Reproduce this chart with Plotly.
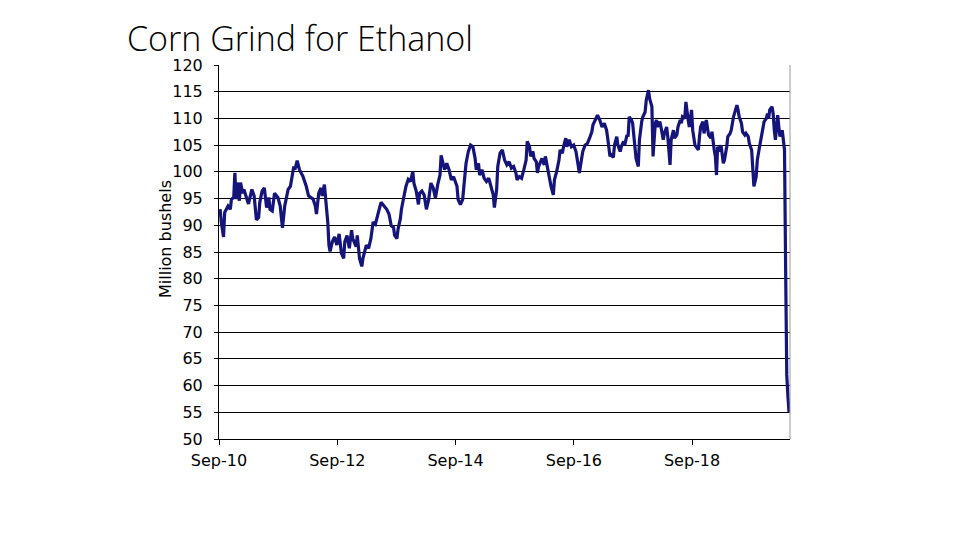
import pandas as pd
import plotly.graph_objects as go

title_text = "Corn Grind for Ethanol"
y_title = "Million bushels"
start_date = "2010-09-01"
end_date = "2020-04-28"

# week number since start_date
week_index = [1,2,4,5,8,10,11,13,14,15,
16,18,19,21,22,24,26,29,31,33,
35,36,38,40,42,44,45,47,49,52,
54,56,58,61,63,66,67,69,71,74,
77,79,83,85,86,88,90,91,93,94,
96,97,98,100,102,104,106,108,110,111,
113,115,117,118,121,122,124,126,127,130,
132,134,136,138,139,141,143,146,148,150,
152,154,155,157,158,160,161,163,165,167,
169,171,172,174,176,177,179,181,183,185,
187,189,191,193,195,196,198,199,201,203,
205,207,210,211,213,215,217,218,220,222,
224,226,227,229,230,232,234,236,238,240,
242,243,245,246,248,250,252,254,256,258,
260,262,263,265,267,269,271,272,274,275,
277,278,280,281,282,285,287,288,290,292,
293,295,296,298,300,301,303,304,306,307,
309,311,313,315,317,318,320,321,323,325,
327,329,330,332,334,336,338,340,342,343,
345,346,348,349,351,352,354,355,357,358,
360,361,362,364,365,367,368,370,371,373,
374,376,377,379,380,382,383,385,386,387,
389,390,392,393,395,396,398,399,401,402,
404,405,407,408,409,411,412,414,415,417,
418,420,421,423,424,425,427,428,430,431,
432,434,435,437,438,439,440,442,443,445,
446,448,449,451,452,454,455,457,458,459,
461,462,464,465,467,468,470,471,472,474,
475,477,478,480,481,483,484,485,486,488,
489,490,491,492,493,494,495,497,498,499,
500,501,502,503]

grind = [93,90.6,87.8,92.4,93.6,93,94.9,95.2,99.8,94.9,
98,94.6,98,96,96.7,95.2,94,96.7,95.5,91,
91.5,94.3,96.4,97,93.3,95.2,93,92.7,96,95.2,
93.6,89.5,93.6,96.7,97.3,101,100.4,102.1,100.4,99.2,
97.3,95.5,94.9,93.6,92.1,96,97,95.5,97.6,95.2,
90.6,86.3,85.1,86.9,87.8,86.3,88.4,84.8,83.8,86.9,
88.1,85.7,89.1,87.5,86,88.1,83.8,82.3,83.8,86.3,
85.7,87.5,90.6,90.2,91.2,92.7,94.3,93.6,93,92.1,
89.9,89.6,88.1,87.5,89.3,91.2,93,95.2,97.3,98.6,
98.2,100.1,97.9,96.4,93.9,96,96.4,95.7,93,94.8,
97.9,97,95.1,97.6,99.4,103.1,101.3,100.4,101.6,100.4,
98.5,99.1,97.3,94.8,93.9,94.8,99.4,101.6,103.8,105,
104.7,102.5,100.4,101.6,99.4,100.4,98.8,98.2,98.8,97.3,
95.7,93.3,96.7,101,103.5,104.1,102.2,101.3,101.9,100.7,
101,99.8,98.5,99.1,98.8,100.4,102.2,105.7,104.7,102.9,
103.8,102.5,101.9,99.8,101,102.5,101.3,102.9,100.7,97.9,
97.3,95.7,98.5,100.1,102.2,104.1,103.5,104.7,106.3,104.7,
106,104.7,105,103.8,101.6,99.8,102.5,103.8,105,105.3,
106.3,107.5,108.8,109.7,110.6,109.7,108.4,109.1,107.8,106.3,
102.9,103.2,102.7,105,106.6,105,103.8,104.7,105.7,105,
106.9,106.6,110.3,109.7,109.1,104.7,102.5,101,106,109.4,
110.3,111.2,113.4,115.3,113.7,112.2,102.9,109.1,109.7,108.4,
109.4,108.4,106,107.2,108.4,106.6,101.3,106,107.8,106.3,
106.9,108.4,109.7,109.1,110.3,110,113.1,109.7,108.4,111.6,
107.8,105,104.7,104.1,106.6,108.4,109.4,107.2,109.7,108.4,
106.9,106.3,107.5,104.1,102.9,99.4,104.7,103.8,105,101.6,
102.2,104.7,106.6,107.2,107.8,110.3,111.2,112.5,111.6,110.3,
109.1,107.5,106.9,107.2,106.6,105.3,104.1,100.4,97.3,99.1,
102.2,104.7,106,107.8,109.4,110,110.9,110,111.6,112.2,
110.9,107.8,106,108.4,110.6,108.4,106.6,107.8,106,104.1,
82,62,58,55]

y_range = [50, 120]
grid_levels = [55, 60, 65, 70, 75, 80, 85, 90, 95, 100, 105, 110, 115]

assert len(week_index) == len(grind)
dates = pd.Timestamp(start_date) + pd.to_timedelta([7 * w for w in week_index], unit="D")

# the page body has an 8px margin, so the figure is laid out 8px smaller/shifted
W, H = 952, 532
OFF = 8

fig = go.Figure()
# invisible copy on the main axis so that the labelled y axis gets drawn
fig.add_trace(go.Scatter(
    x=dates, y=grind, mode="lines", yaxis="y",
    line=dict(color="rgba(0,0,0,0)", width=0), showlegend=False, hoverinfo="skip",
))
fig.add_trace(go.Scatter(
    x=dates, y=grind, mode="lines", yaxis="y2",
    line=dict(color="#14147a", width=3.2), showlegend=False, hoverinfo="skip",
))

fig.update_layout(
    width=W, height=H,
    margin=dict(l=219 - OFF, r=W - (790 - OFF), t=65 - OFF, b=H - (439 - OFF), autoexpand=False),
    paper_bgcolor="white", plot_bgcolor="white",
    font=dict(family="DejaVu Sans", size=16, color="black"),
    title=dict(text=title_text, x=(127 - OFF) / W, xanchor="left", xref="container",
               y=1 - (39 - OFF) / H, yanchor="middle", yref="container",
               font=dict(family="Open Sans", size=34, color="black", weight=300)),
    xaxis=dict(type="date", range=[start_date, end_date],
               tick0=start_date, dtick="M24", tickformat="%b-%y",
               showgrid=False, zeroline=False,
               showline=True, linecolor="black", linewidth=1,
               ticks="outside", ticklen=5, tickcolor="black",
               ticklabelstandoff=2,
               tickfont=dict(family="DejaVu Sans", size=16, color="black")),
    yaxis=dict(range=y_range, dtick=5, showgrid=False, zeroline=False,
               showline=True, linecolor="black", linewidth=1,
               ticks="outside", ticklen=4, tickcolor="black",
               ticklabelstandoff=8,
               tickfont=dict(family="DejaVu Sans", size=16, color="black")),
    yaxis2=dict(range=y_range, overlaying="y", side="left", anchor="x",
                tickmode="array", tickvals=grid_levels,
                showticklabels=False, ticks="", showline=False, zeroline=False,
                showgrid=True, gridcolor="black", gridwidth=1),
    shapes=[dict(type="line", xref="paper", yref="paper", x0=1, x1=1, y0=0, y1=1,
                 line=dict(color="#999999", width=1))],
    annotations=[dict(text=y_title, textangle=-90, xref="paper", yref="paper",
                      x=(165 - 219) / 571, y=(439 - 239) / 374,
                      xanchor="center", yanchor="middle", showarrow=False,
                      font=dict(family="DejaVu Sans", size=16, color="black"))],
)

fig.write_html("out.html")
